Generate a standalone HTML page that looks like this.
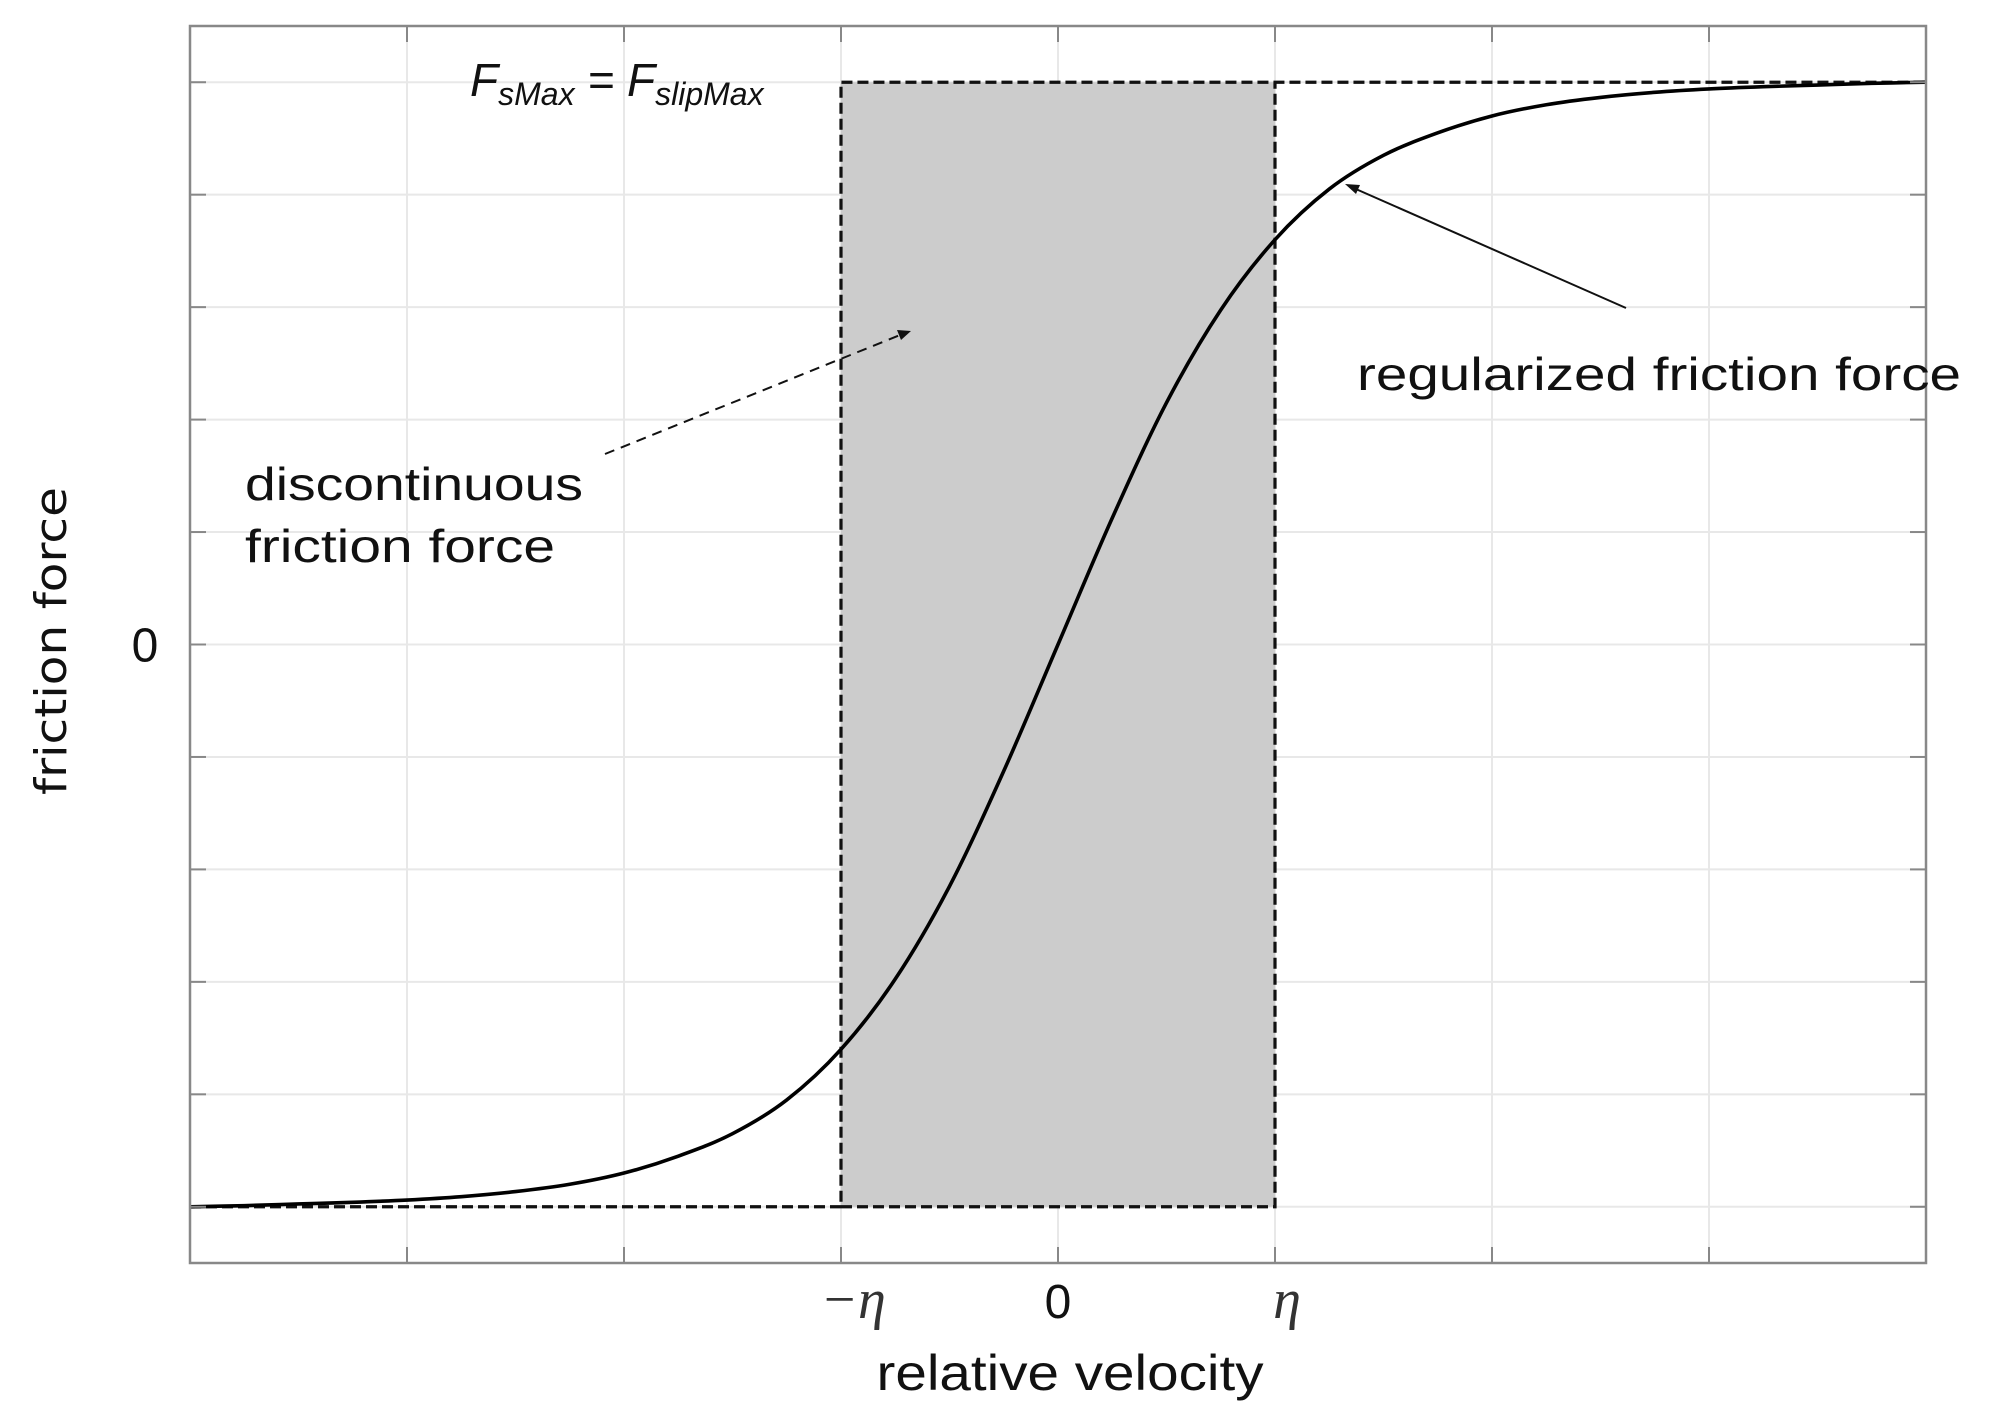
<!DOCTYPE html>
<html><head><meta charset="utf-8"><style>html,body{margin:0;padding:0;background:#fff}svg{display:block}</style></head>
<body>
<svg id="chart" width="1989" height="1422" viewBox="0 0 1989 1422" xmlns="http://www.w3.org/2000/svg">
<g id="gridG"></g>
<g id="dataG"></g>
<g id="axesG"></g>
<g id="annG">
<text x="470" y="96" font-family="Liberation Sans, sans-serif" font-style="italic" font-size="46" fill="#111">F<tspan font-size="32" dy="9">sMax</tspan><tspan dy="-9"> = F</tspan><tspan font-size="32" dy="9">slipMax</tspan></text>
<text x="1357" y="390" font-family="Liberation Sans, sans-serif" font-size="46" fill="#111" textLength="604" lengthAdjust="spacingAndGlyphs">regularized friction force</text>
<text x="245" y="500" font-family="Liberation Sans, sans-serif" font-size="46" fill="#111" textLength="338" lengthAdjust="spacingAndGlyphs">discontinuous</text>
<text x="245" y="562" font-family="Liberation Sans, sans-serif" font-size="46" fill="#111" textLength="310" lengthAdjust="spacingAndGlyphs">friction force</text>
<line x1="1626" y1="308" x2="1349" y2="186" stroke="#111" stroke-width="2"/>
<polygon points="1345,184 1360,185 1356,194" fill="#111"/>
<line x1="605" y1="454" x2="905" y2="333" stroke="#111" stroke-width="2" stroke-dasharray="10,7"/>
<polygon points="911,331 897,330 901,340" fill="#111"/>
<text transform="translate(66,641) rotate(-90)" text-anchor="middle" font-family="DejaVu Sans, sans-serif" font-size="44" fill="#111" textLength="308" lengthAdjust="spacingAndGlyphs">friction force</text>
<text x="1070" y="1390" text-anchor="middle" font-family="Liberation Sans, sans-serif" font-size="50" fill="#111" textLength="387" lengthAdjust="spacingAndGlyphs">relative velocity</text>
</g>
</svg>
<script>
const xTickValues = [-1, 0, 1];
const xTickLabels = ["\u2212\u03b7", "0", "\u03b7"];
const yTickValues = [0];
const yTickLabels = ["0"];
const curveX = [-4,-3.75,-3.5,-3.25,-3,-2.75,-2.5,-2.25,-2,-1.75,-1.5,-1.25,-1,-0.75,-0.5,-0.25,0,0.25,0.5,0.75,1,1.25,1.5,1.75,2,2.25,2.5,2.75,3,3.25,3.5,3.75,4];
const curveY = [-1.0,-0.998,-0.995,-0.992,-0.988,-0.982,-0.973,-0.96,-0.94,-0.91,-0.87,-0.81,-0.72,-0.595,-0.43,-0.225,0,0.225,0.43,0.595,0.72,0.81,0.87,0.91,0.94,0.96,0.973,0.982,0.988,0.992,0.995,0.998,1.0];
const stickBand = [-1, 1];
const maxForce = [1, -1];

const L=190, R=1926, T=26, B=1263;
const xMin=-4, xMax=4, yMin=-1.1, yMax=1.1;
const sx=v=>L+(v-xMin)/(xMax-xMin)*(R-L);
const sy=v=>B-(v-yMin)/(yMax-yMin)*(B-T);
const NS="http://www.w3.org/2000/svg";
function mk(tag, parent, attrs){const e=document.createElementNS(NS,tag);for(const k in attrs)e.setAttribute(k,attrs[k]);parent.appendChild(e);return e;}
const grid=document.getElementById('gridG'), data=document.getElementById('dataG'), axes=document.getElementById('axesG');

for(let v=xMin; v<=xMax; v+=1){
  const g=mk('line',grid,{x1:sx(v),x2:sx(v),y1:T,y2:B,stroke:'#e8e8e8','stroke-width':2});
  
  
}
for(let i=-5;i<=5;i++){
  const v=i*0.2;
  const g=mk('line',grid,{x1:L,x2:R,y1:sy(v),y2:sy(v),stroke:'#e8e8e8','stroke-width':2});
  
  
}

const rect=mk('rect',data,{x:sx(stickBand[0]),y:sy(maxForce[0]),width:sx(stickBand[1])-sx(stickBand[0]),height:sy(maxForce[1])-sy(maxForce[0]),fill:'#cccccc'});



const dd=`M${sx(xMin)},${sy(maxForce[1])} L${sx(stickBand[0])},${sy(maxForce[1])} L${sx(stickBand[0])},${sy(maxForce[0])} L${sx(xMax)},${sy(maxForce[0])} M${sx(stickBand[0])},${sy(maxForce[1])} L${sx(stickBand[1])},${sy(maxForce[1])} L${sx(stickBand[1])},${sy(maxForce[0])}`;
const dp=mk('path',data,{d:dd,fill:'none',stroke:'#111','stroke-width':3.2,'stroke-dasharray':'11,5'});



const P=curveX.map((x,i)=>[sx(x),sy(curveY[i])]);
let d=`M${P[0][0]},${P[0][1]}`;
for(let i=0;i<P.length-1;i++){
  const p0=P[Math.max(0,i-1)],p1=P[i],p2=P[i+1],p3=P[Math.min(P.length-1,i+2)];
  const c1=[p1[0]+(p2[0]-p0[0])/6,p1[1]+(p2[1]-p0[1])/6];
  const c2=[p2[0]-(p3[0]-p1[0])/6,p2[1]-(p3[1]-p1[1])/6];
  d+=` C${c1[0]},${c1[1]} ${c2[0]},${c2[1]} ${p2[0]},${p2[1]}`;
}
const cp=mk('path',data,{d:d,fill:'none',stroke:'#000','stroke-width':3.6});



const box=mk('rect',axes,{x:L,y:T,width:R-L,height:B-T,fill:'none',stroke:'#888','stroke-width':2.5});


for(let v=xMin; v<=xMax; v+=1){
  const t1=mk('line',axes,{x1:sx(v),x2:sx(v),y1:B,y2:B-16,stroke:'#888','stroke-width':2});
  
  
  const t2=mk('line',axes,{x1:sx(v),x2:sx(v),y1:T,y2:T+16,stroke:'#888','stroke-width':2});
  
  
}
for(let i=-5;i<=5;i++){
  const v=i*0.2;
  const t1=mk('line',axes,{x1:L,x2:L+16,y1:sy(v),y2:sy(v),stroke:'#888','stroke-width':2});
  
  
  const t2=mk('line',axes,{x1:R,x2:R-16,y1:sy(v),y2:sy(v),stroke:'#888','stroke-width':2});
  
  
}
xTickValues.forEach((v,i)=>{
  const lab=xTickLabels[i];
  const isEta=lab!=="0";
  const t=mk('text',axes,{x:sx(v)+(isEta?12:0),y:1318,'text-anchor':'middle','font-size':isEta?56:48,'font-family':isEta?'Liberation Serif, DejaVu Serif, serif':'Liberation Sans, sans-serif','font-style':isEta?'italic':'normal',fill:isEta?'#333':'#111'});
  t.textContent=lab;
  
  
});
yTickValues.forEach((v,i)=>{
  const t=mk('text',axes,{x:145,y:sy(v)+17,'text-anchor':'middle','font-size':48,'font-family':'Liberation Sans, sans-serif',fill:'#111'});
  t.textContent=yTickLabels[i];
  
  
});
</script>
</body></html>
